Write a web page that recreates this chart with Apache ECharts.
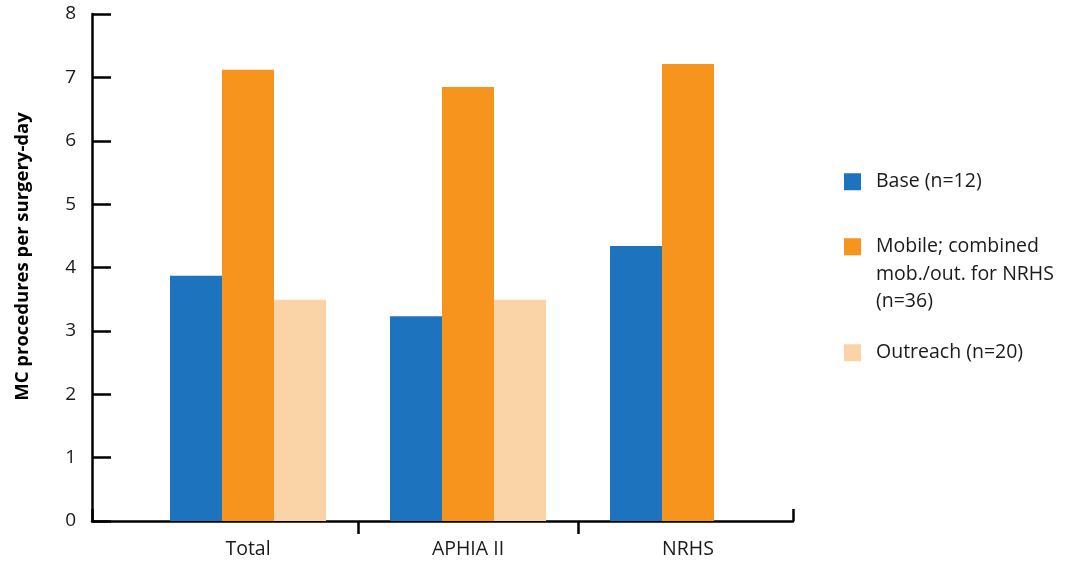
<!DOCTYPE html>
<html>
<head>
<meta charset="utf-8">
<script src="https://cdn.jsdelivr.net/npm/echarts@6/dist/echarts.min.js"></script>
<style>
html,body{margin:0;padding:0;background:#fff;}
#chart{width:1066px;height:561px;}
</style>
</head>
<body>
<div id="chart"></div>
<script>
var categories = ['Total', 'APHIA II', 'NRHS'];
var seriesNames = ['Base (n=12)', 'Mobile; combined\nmob./out. for NRHS\n(n=36)', 'Outreach (n=20)'];
var baseValues = [3.87, 3.23, 4.34];
var mobileValues = [7.12, 6.85, 7.21];
var outreachValues = [3.49, 3.49, null];
var yTicks = [0, 1, 2, 3, 4, 5, 6, 7, 8];
var yTitle = 'MC procedures per surgery-day';
var colors = ['#1e73be', '#f7941e', '#fad4a6'];

var FONT = '"Open Sans", "Noto Sans", sans-serif';
var chart = echarts.init(document.getElementById('chart'), null, {renderer: 'canvas'});

// extra empty slots keep the category axis' trailing boundary tick off-canvas
var catData = categories.concat(['', '']);

function legendFor(i, top, multi) {
  return {
    show: true,
    orient: 'vertical',
    left: 844,
    top: top,
    padding: 0,
    itemWidth: 17,
    itemHeight: multi ? 72 : 17,
    icon: multi ? 'path://M0,0L17,0L17,17L0,17Z M0,72L0.01,72L0,72Z' : 'rect',
    selectedMode: false,
    data: [seriesNames[i]],
    textStyle: {
      fontFamily: FONT,
      fontSize: 19.5,
      lineHeight: 27.5,
      color: '#1a1a1a',
      padding: [0, 0, 0, 10]
    }
  };
}

var option = {
  animation: false,
  backgroundColor: '#ffffff',
  color: colors,
  textStyle: {fontFamily: FONT},
  legend: [
    legendFor(0, 168, false),
    legendFor(1, 233, true),
    legendFor(2, 339, false)
  ],
  grid: [
    {left: 92, right: 273, top: 14, bottom: 40, containLabel: false, outerBoundsMode: 'none'},
    {left: 138, width: 1100, top: 14, bottom: 40, containLabel: false, outerBoundsMode: 'none'}
  ],
  xAxis: [
    {
      type: 'value', gridIndex: 0, min: 0, max: 1, interval: 1,
      axisLine: {show: true, lineStyle: {color: '#000', width: 2.5}},
      axisTick: {show: true, inside: true, length: 12, lineStyle: {color: '#000', width: 2.5}},
      axisLabel: {show: false},
      splitLine: {show: false}
    },
    {
      type: 'category', gridIndex: 1, data: catData,
      axisLine: {show: false},
      axisTick: {
        show: true, length: 13,
        interval: function (idx) { return idx === 1 || idx === 2; },
        lineStyle: {color: '#000', width: 2.5}
      },
      axisLabel: {
        show: true, interval: 0, margin: 18,
        fontFamily: FONT, fontSize: 19.5, color: '#1a1a1a'
      },
      splitLine: {show: false}
    }
  ],
  yAxis: [
    {
      type: 'value', gridIndex: 0, min: 0, max: 8, interval: 1,
      name: yTitle,
      nameLocation: 'middle',
      nameGap: 60,
      nameTextStyle: {
        fontFamily: FONT, fontSize: 18.5, fontWeight: 'bold', color: '#000',
        padding: [0, 0, 0, 22]
      },
      axisLine: {show: true, lineStyle: {color: '#000', width: 2.5}},
      axisTick: {show: true, inside: true, length: 19, lineStyle: {color: '#000', width: 2.5}},
      axisLabel: {
        show: true, margin: 16, fontFamily: FONT, fontSize: 19, color: '#1a1a1a',
        formatter: function (v) { return yTicks.indexOf(v) >= 0 ? String(v) : ''; }
      },
      splitLine: {show: false}
    },
    {
      type: 'value', gridIndex: 1, min: 0, max: 8, interval: 1, show: false,
      splitLine: {show: false}
    }
  ],
  series: [
    {name: seriesNames[0], type: 'bar', xAxisIndex: 1, yAxisIndex: 1, data: baseValues,
     barWidth: 52, barGap: '0%', itemStyle: {color: colors[0]}},
    {name: seriesNames[1], type: 'bar', xAxisIndex: 1, yAxisIndex: 1, data: mobileValues,
     barWidth: 52, barGap: '0%', itemStyle: {color: colors[1]}},
    {name: seriesNames[2], type: 'bar', xAxisIndex: 1, yAxisIndex: 1, data: outreachValues,
     barWidth: 52, barGap: '0%', itemStyle: {color: colors[2]}}
  ]
};
chart.setOption(option);
</script>
</body>
</html>
